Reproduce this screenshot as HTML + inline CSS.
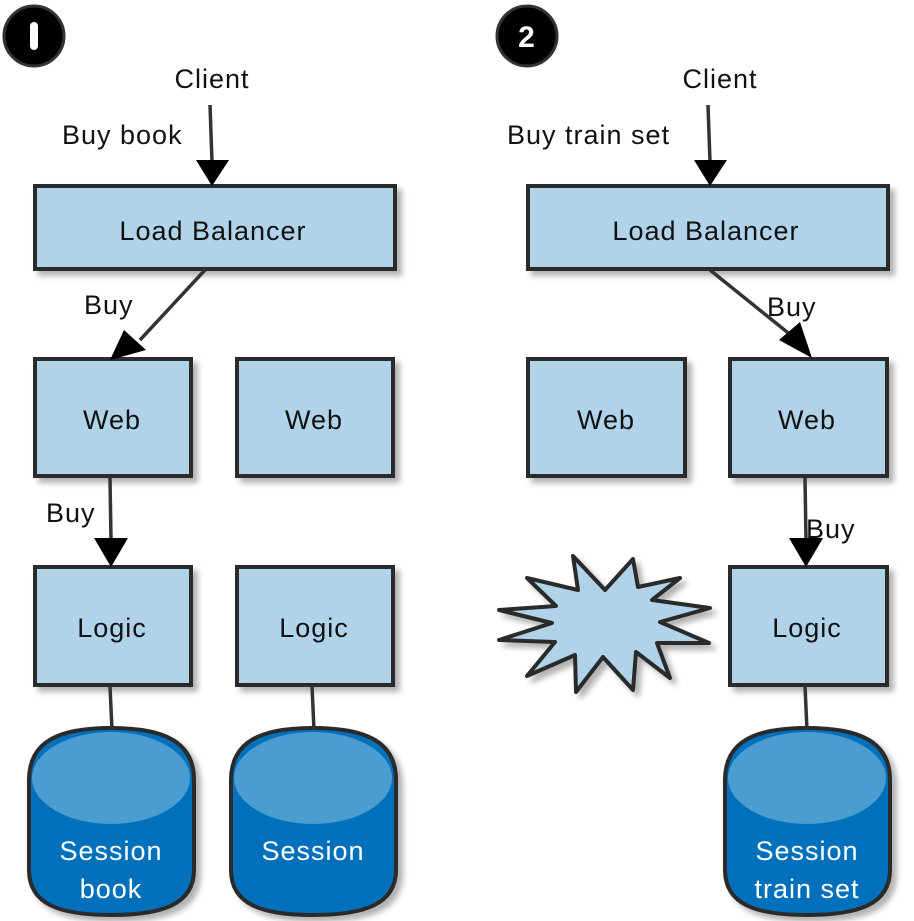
<!DOCTYPE html>
<html><head><meta charset="utf-8"><style>
html,body{margin:0;padding:0;background:#fff}
svg{display:block}
text{font-family:"Liberation Sans",sans-serif;font-size:27px;letter-spacing:1px;fill:#111}
.w{fill:#fff}
</style></head><body>
<svg width="914" height="921" viewBox="0 0 914 921" xmlns="http://www.w3.org/2000/svg">
<defs>
<filter id="sh" x="-10%" y="-10%" width="130%" height="130%"><feDropShadow dx="5" dy="5" stdDeviation="3" flood-color="#000" flood-opacity="0.3"/></filter>
<g id="cyl">
<path d="M-82,52 C-82,12 -50,0 0,0 C50,0 83,12 83,52 L83,142 C83,177 50,187 0,187 C-50,187 -82,177 -82,142 Z" fill="#0070bb" stroke="#2a2a2a" stroke-width="4"/>
<ellipse cx="0" cy="50" rx="79" ry="46" fill="#4b9cd0"/>
</g>
</defs>
<circle cx="34" cy="36" r="30" fill="#000" stroke="#333" stroke-width="3"/>
<rect x="30" y="22" width="8" height="28" rx="4" fill="#fff"/>
<circle cx="527" cy="36" r="30" fill="#000" stroke="#333" stroke-width="3"/>
<text x="527" y="47" text-anchor="middle" class="w" style="font-size:30px;font-weight:bold">2</text>

<g fill="#b0d3ea" stroke="#2a2a2a" stroke-width="4" filter="url(#sh)">
<rect x="35" y="186" width="360" height="83"/>
<rect x="528" y="186" width="360" height="83"/>
<rect x="35" y="359" width="156" height="117"/>
<rect x="237" y="359" width="156" height="117"/>
<rect x="528" y="359" width="157" height="117"/>
<rect x="730" y="359" width="157" height="117"/>
<rect x="35" y="567" width="156" height="118"/>
<rect x="237" y="567" width="156" height="118"/>
<rect x="730" y="567" width="157" height="118"/>
<polygon points="573,556 578,590 527,578 556,606 499,610 552,623 499,640 555,642 527,676 575,655 576,692 603,657 633,690 636,652 670,678 657,643 709,643 660,622 710,608 652,600 680,578 638,587 633,559 605,590" stroke-linejoin="round"/>
</g>
<g filter="url(#sh)">
<use href="#cyl" x="111" y="728"/>
<use href="#cyl" x="313" y="728"/>
<use href="#cyl" x="807" y="728"/>
</g>

<g stroke="#333" stroke-width="3.5" fill="none">
<path d="M210,105 L212,162"/>
<path d="M205,270 L140,340"/>
<path d="M110,478 L111,540"/>
<path d="M110,686 L112,730"/>
<path d="M312,686 L314,730"/>
<path d="M708,105 L710,162"/>
<path d="M710,270 L792,336"/>
<path d="M805,478 L806,540"/>
<path d="M805,686 L807,730"/>
</g>
<g fill="#000">
<polygon points="196,160 229,160 212,186"/>
<polygon points="124,330 146,350 110,360"/>
<polygon points="94,538 128,538 111,567"/>
<polygon points="694,160 727,160 710,186"/>
<polygon points="779,340 800,322 812,358"/>
<polygon points="789,538 823,538 806,567"/>
</g>

<text x="212" y="88" text-anchor="middle">Client</text>
<text x="62" y="144">Buy book</text>
<text x="213" y="240" text-anchor="middle">Load Balancer</text>
<text x="84" y="314">Buy</text>
<text x="112" y="429" text-anchor="middle">Web</text>
<text x="314" y="429" text-anchor="middle">Web</text>
<text x="46" y="522">Buy</text>
<text x="112" y="637" text-anchor="middle">Logic</text>
<text x="314" y="637" text-anchor="middle">Logic</text>
<text x="111" y="860" text-anchor="middle" class="w">Session</text>
<text x="111" y="898" text-anchor="middle" class="w">book</text>
<text x="313" y="860" text-anchor="middle" class="w">Session</text>

<text x="720" y="88" text-anchor="middle">Client</text>
<text x="507" y="144">Buy train set</text>
<text x="706" y="240" text-anchor="middle">Load Balancer</text>
<text x="767" y="316">Buy</text>
<text x="606" y="429" text-anchor="middle">Web</text>
<text x="807" y="429" text-anchor="middle">Web</text>
<text x="806" y="538">Buy</text>
<text x="807" y="637" text-anchor="middle">Logic</text>
<text x="807" y="860" text-anchor="middle" class="w">Session</text>
<text x="807" y="898" text-anchor="middle" class="w">train set</text>
</svg>
</body></html>
